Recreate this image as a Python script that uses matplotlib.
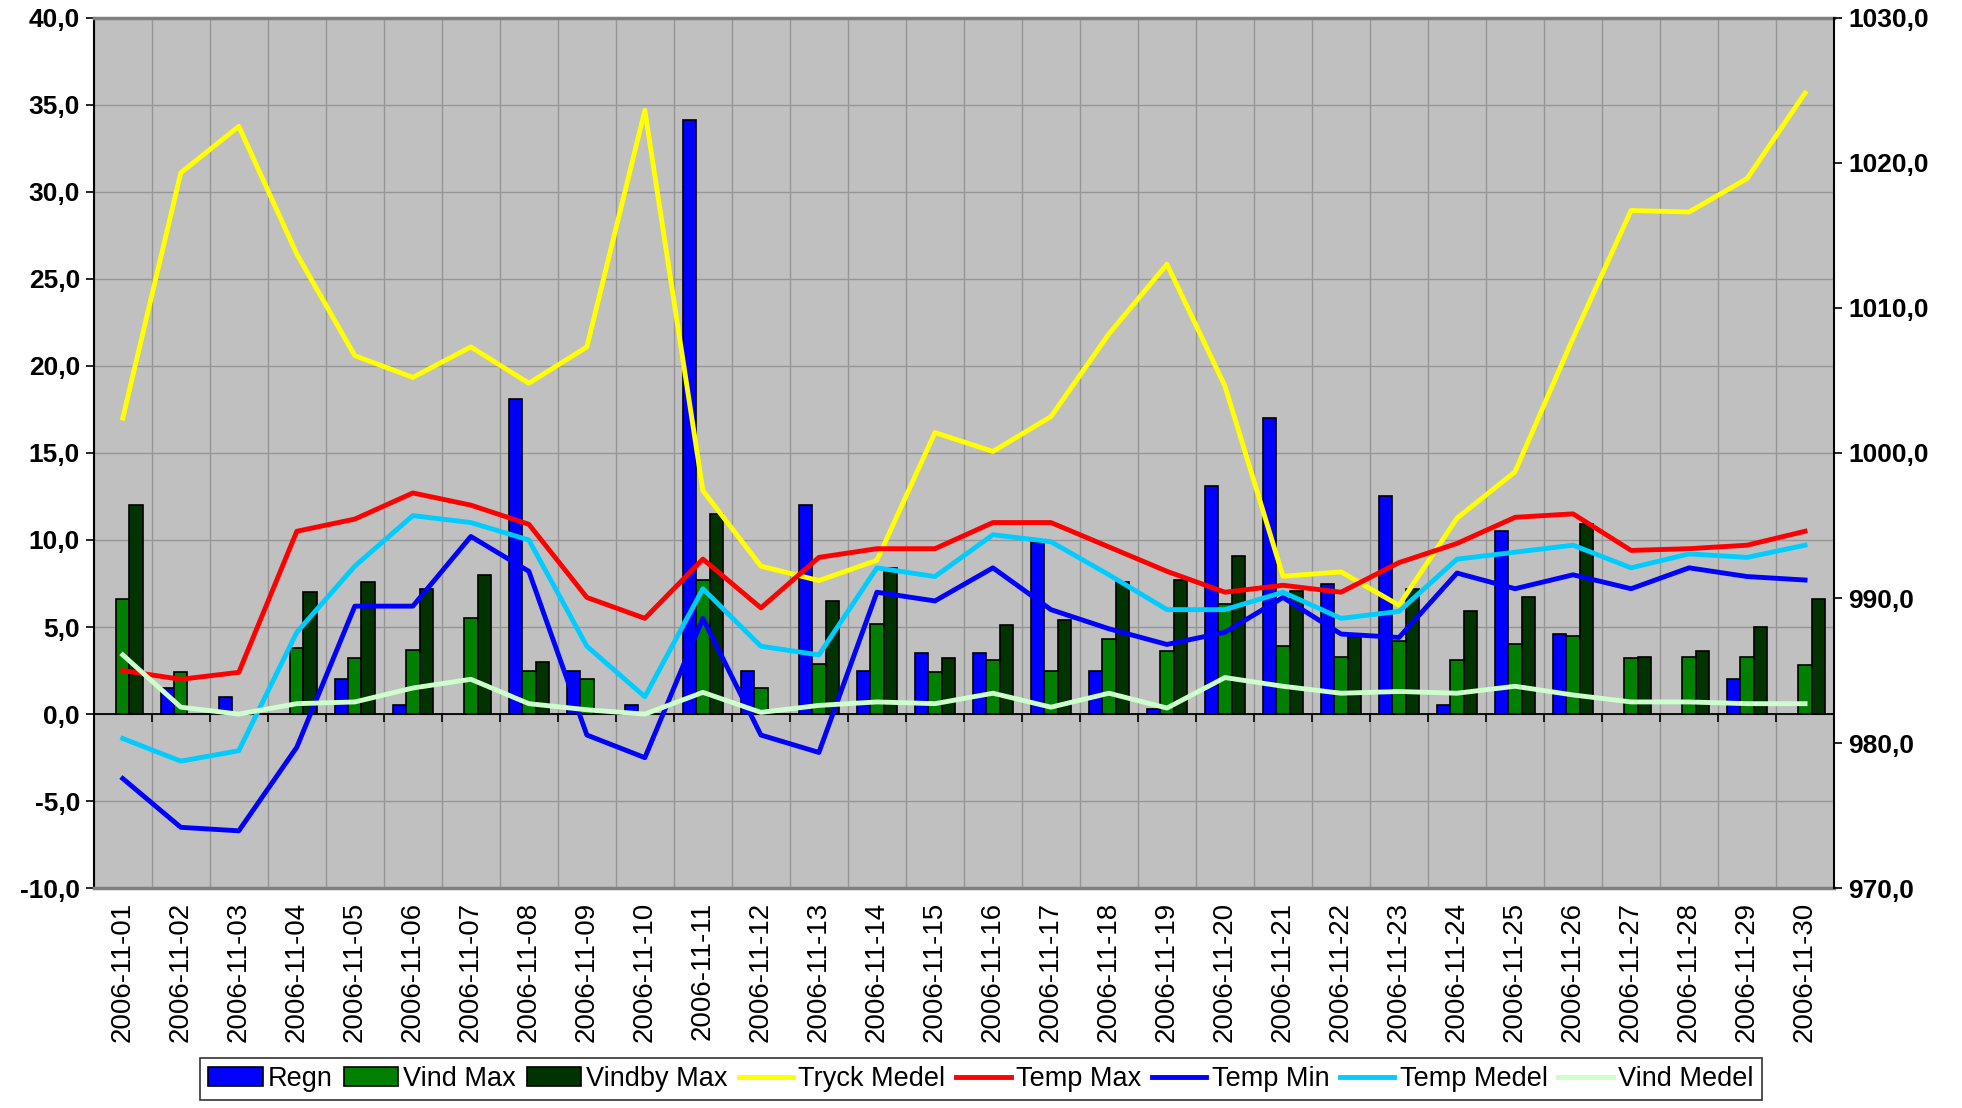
# weather chart for november 2006, bars + lines on two y axes
import numpy as np
import matplotlib.pyplot as plt
from matplotlib.ticker import FuncFormatter, MultipleLocator

plt.rcParams['font.family'] = ['Liberation Sans', 'DejaVu Sans']

dates = ['2006-11-%02d' % d for d in range(1, 31)]

nan = np.nan
regn = [nan, 1.5, 1.0, nan, 2.0, 0.5, nan, 18.1, 2.5, 0.5,
        34.1, 2.5, 12.0, 2.5, 3.5, 3.5, 9.9, 2.5, 0.3, 13.1,
        17.0, 7.5, 12.5, 0.5, 10.5, 4.6, nan, nan, 2.0, nan]
vind_max = [6.6, 2.4, nan, 3.8, 3.2, 3.7, 5.5, 2.45, 2.0, nan,
            7.7, 1.5, 2.9, 5.2, 2.4, 3.1, 2.45, 4.3, 3.6, 6.3,
            3.9, 3.3, 4.2, 3.1, 4.0, 4.5, 3.2, 3.3, 3.3, 2.8]
vindby_max = [12.0, nan, nan, 7.0, 7.6, 7.2, 8.0, 3.0, nan, nan,
              11.5, nan, 6.5, 8.4, 3.2, 5.1, 5.4, 7.6, 7.7, 9.1,
              7.05, 4.4, 7.2, 5.9, 6.7, 10.9, 3.3, 3.6, 5.0, 6.6]

tryck_medel = [1002.4, 1019.3, 1022.5, 1013.7, 1006.7, 1005.2, 1007.3, 1004.8, 1007.3, 1023.6,
               997.4, 992.2, 991.2, 992.6, 1001.4, 1000.1, 1002.5, 1008.2, 1013.0, 1004.6,
               991.5, 991.8, 989.5, 995.5, 998.7, 1007.9, 1016.7, 1016.6, 1018.9, 1024.8]
temp_max = [2.5, 2.0, 2.4, 10.5, 11.2, 12.7, 12.0, 10.9, 6.7, 5.5,
            8.9, 6.1, 9.0, 9.5, 9.5, 11.0, 11.0, 9.6, 8.2, 7.0,
            7.4, 7.0, 8.7, 9.8, 11.3, 11.5, 9.4, 9.5, 9.7, 10.5]
temp_min = [-3.7, -6.5, -6.7, -1.9, 6.2, 6.2, 10.2, 8.2, -1.2, -2.5,
            5.5, -1.2, -2.2, 7.0, 6.5, 8.4, 6.0, 4.9, 4.0, 4.7,
            6.7, 4.6, 4.4, 8.1, 7.2, 8.0, 7.2, 8.4, 7.9, 7.7]
temp_medel = [-1.4, -2.7, -2.1, 4.7, 8.5, 11.4, 11.0, 10.0, 3.9, 1.0,
              7.2, 3.9, 3.4, 8.4, 7.9, 10.3, 9.9, 8.0, 6.0, 6.0,
              7.0, 5.5, 5.9, 8.9, 9.3, 9.7, 8.4, 9.2, 9.0, 9.7]
vind_medel = [3.4, 0.4, 0.0, 0.6, 0.7, 1.5, 2.0, 0.6, 0.25, 0.0,
              1.25, 0.1, 0.5, 0.7, 0.6, 1.2, 0.4, 1.2, 0.35, 2.1,
              1.6, 1.2, 1.3, 1.2, 1.6, 1.1, 0.7, 0.7, 0.6, 0.6]

def comma(v, pos):
    return ('%.1f' % v).replace('.', ',')

x = np.arange(len(dates))
w = 0.23

fig = plt.figure(figsize=(19.62, 11.08), dpi=100)
rect = [0.0478, 0.1983, 0.887, 0.7859]
ax = fig.add_axes(rect)
ax.set_facecolor('#C0C0C0')

b1 = ax.bar(x - w, regn, w, color='#0000FF', edgecolor='black', lw=1.2, zorder=3, label='Regn')
b2 = ax.bar(x, vind_max, w, color='#008000', edgecolor='black', lw=1.2, zorder=3, label='Vind Max')
b3 = ax.bar(x + w, vindby_max, w, color='#003300', edgecolor='black', lw=1.2, zorder=3, label='Vindby Max')

ax.set_xlim(-0.5, len(dates) - 0.5)
ax.set_ylim(-10, 40)
ax.yaxis.set_major_locator(MultipleLocator(5))
ax.yaxis.set_major_formatter(FuncFormatter(comma))
ax.set_xticks(x)
ax.set_xticklabels(dates, rotation=90, fontsize=20)
ax.set_xticks(np.arange(-0.5, len(dates), 1), minor=True)
ax.tick_params(axis='x', which='both', length=0, pad=10)
ax.tick_params(axis='y', direction='out', length=6, width=1.2, labelsize=19, pad=4)
for t in ax.get_yticklabels():
    t.set_fontweight('bold')
ax.grid(which='minor', axis='x', color='#969696', lw=1, zorder=0)
ax.grid(which='major', axis='y', color='#969696', lw=1, zorder=0)
ax.axhline(0, color='black', lw=1.3, zorder=2)
ax.vlines(np.arange(-0.5, len(dates), 1), -0.45, 0, color='black', lw=1.2, zorder=2)
for s in ['top', 'bottom']:
    ax.spines[s].set_color('#808080')
    ax.spines[s].set_linewidth(2.5)
ax.spines['left'].set_linewidth(1.5)
ax.spines['right'].set_visible(False)

# right axis for pressure
ax2 = ax.twinx()
l1, = ax2.plot(x, tryck_medel, color='#FFFF00', lw=3.5, label='Tryck Medel')
ax2.set_ylim(970, 1030)
ax2.yaxis.set_major_locator(MultipleLocator(10))
ax2.yaxis.set_major_formatter(FuncFormatter(comma))
ax2.tick_params(axis='y', direction='out', length=6, width=1.2, labelsize=19, pad=4)
for t in ax2.get_yticklabels():
    t.set_fontweight('bold')
for s in ['top', 'bottom', 'left']:
    ax2.spines[s].set_visible(False)
ax2.spines['right'].set_linewidth(1.5)

# temperature/wind lines on top of pressure line
ax3 = fig.add_axes(rect, sharex=ax, sharey=ax)
ax3.patch.set_visible(False)
ax3.axis('off')
l2, = ax3.plot(x, temp_max, color='#FF0000', lw=3.5, label='Temp Max')
l3, = ax3.plot(x, temp_min, color='#0000FF', lw=3.5, label='Temp Min')
l4, = ax3.plot(x, temp_medel, color='#00CCFF', lw=3.5, label='Temp Medel')
l5, = ax3.plot(x, vind_medel, color='#CCFFCC', lw=3.5, label='Vind Medel')

handles = [b1, b2, b3, l1, l2, l3, l4, l5]
labels = [h.get_label() for h in handles]
leg = fig.legend(handles, labels, loc='lower center', bbox_to_anchor=(0.5, 0.002),
                 ncol=8, fontsize=19.5, frameon=True, fancybox=False, edgecolor='black',
                 handlelength=2.0, handletextpad=0.2, columnspacing=0.4, borderpad=0.3,
                 borderaxespad=0.2)
leg.get_frame().set_linewidth(1.2)

plt.savefig('out.png')
